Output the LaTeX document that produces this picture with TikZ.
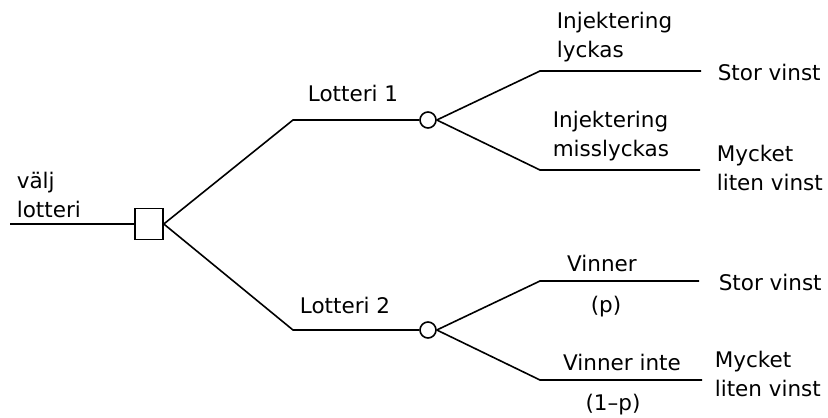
\documentclass[tikz,border=0pt]{standalone}
\usepackage{fontspec}
\setmainfont{DejaVu Sans}
\begin{document}
\begin{tikzpicture}[x=1pt,y=-1pt,
  line width=1.6pt,
  lbl/.style={font=\fontsize{21.5}{29}\selectfont, inner sep=0pt, align=left},
  decision/.style={draw, rectangle, minimum width=28pt, minimum height=31pt, inner sep=0pt, fill=white},
  chance/.style={draw, circle, minimum size=16pt, inner sep=0pt, fill=white}]
\useasboundingbox (0,0) rectangle (828,418);
% nodes
\coordinate (start) at (10,224);
\node[decision] (box) at (149,224) {};
\node[chance] (c1) at (428,120) {};
\node[chance] (c2) at (428,330) {};
\coordinate (k1) at (293,120);
\coordinate (k2) at (293,330);
\coordinate (a1) at (540,71);
\coordinate (a1e) at (701,71);
\coordinate (a2) at (540,170);
\coordinate (a2e) at (700,170);
\coordinate (b1) at (540,281);
\coordinate (b1e) at (699,281);
\coordinate (b2) at (540,380);
\coordinate (b2e) at (702,380);
% connectors
\draw (start) -- (box.west);
\draw (box.east) -- (k1) -- (c1.west);
\draw (box.east) -- (k2) -- (c2.west);
\draw (c1.east) -- (a1) -- (a1e);
\draw (c1.east) -- (a2) -- (a2e);
\draw (c2.east) -- (b1) -- (b1e);
\draw (c2.east) -- (b2) -- (b2e);
% labels
\node[lbl, anchor=west] (t0) at (16,195) {välj\\lotteri};
\node[lbl] (t1) at (353,93) {Lotteri 1};
\node[lbl] (t2) at (345,305) {Lotteri 2};
\node[lbl, anchor=west] (t3) at (556,37) {Injektering\\lyckas};
\node[lbl, anchor=west] (t4) at (552,136) {Injektering\\misslyckas};
\node[lbl, anchor=west] (t5) at (717,72) {Stor vinst};
\node[lbl, anchor=west] (t6) at (716,168) {Mycket\\liten vinst};
\node[lbl] (t7) at (602,263) {Vinner};
\node[lbl] (t8) at (606,307) {(p)};
\node[lbl, anchor=west] (t9) at (718,282) {Stor vinst};
\node[lbl] (t10) at (622,362) {Vinner inte};
\node[lbl] (t11) at (613,405) {(1\textendash p)};
\node[lbl, anchor=west] (t12) at (714,374) {Mycket\\liten vinst};
\end{tikzpicture}
\end{document}
